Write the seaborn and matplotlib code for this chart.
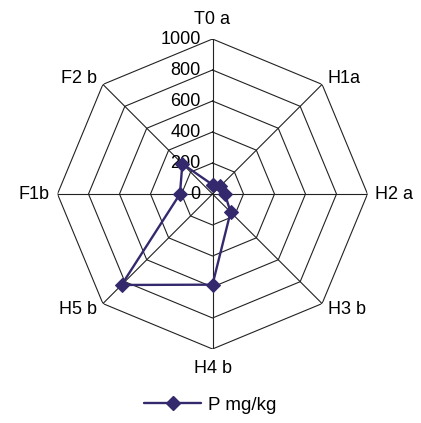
import numpy as np
import pandas as pd
import matplotlib
matplotlib.use("Agg")
import matplotlib.pyplot as plt
import matplotlib.transforms as mtransforms
from matplotlib.lines import Line2D
import seaborn as sns

categories = ["T0 a", "H1a", "H2 a", "H3 b", "H4 b", "H5 b", "F1b", "F2 b"]
values = [60, 70, 80, 165, 585, 830, 210, 275]
ring_ticks = [0, 200, 400, 600, 800, 1000]
series_name = "P mg/kg"

sns.set_theme(style="white")
plt.rcParams['font.family'] = ['Liberation Sans', 'DejaVu Sans']

W, H = 421, 423
fig = plt.figure(figsize=(W / 100, H / 100), dpi=100)
cx, cy, R = 212.5, 194, 155
ax = fig.add_axes([(cx - R) / W, (H - cy - R) / H, 2 * R / W, 2 * R / H],
                  projection='polar')
ax.set_theta_zero_location('N')
ax.set_theta_direction(-1)
ax.set_ylim(0, 1000)
ax.grid(False)
ax.spines['polar'].set_visible(False)
ax.set_xticks([])
ax.set_yticks([])
ax.set_facecolor('none')

n = len(categories)
angles = np.linspace(0, 2 * np.pi, n, endpoint=False)
closed = np.append(angles, angles[0])

grid_col = '#222222'
for r in ring_ticks[1:]:
    ax.plot(closed, [r] * (n + 1), color=grid_col, lw=0.8, zorder=1)
for a in angles:
    ax.plot([a, a], [0, 1000], color=grid_col, lw=0.8, zorder=1)

fs = 13
off = mtransforms.offset_copy(ax.transData, fig=fig, x=-12, y=0, units='dots')
for r in ring_ticks:
    ax.text(0, r, str(r), transform=off, ha='right', va='center',
            fontsize=fs, color='black', zorder=2)

for a, lab in zip(angles, categories):
    deg = np.degrees(a) % 360
    if deg < 1:
        ha, va, rr = 'center', 'bottom', 1070
    elif abs(deg - 180) < 1:
        ha, va, rr = 'center', 'top', 1070
    elif deg < 180:
        ha, va, rr = 'left', 'center', 1050
    else:
        ha, va, rr = 'right', 'center', 1050
    ax.text(a, rr, lab, ha=ha, va=va, fontsize=fs, color='black')

color = '#35296e'
df = pd.DataFrame({"angle": np.append(angles, angles[0]),
                   "value": values + [values[0]]})
sns.lineplot(data=df, x="angle", y="value", sort=False, ax=ax, color=color,
             lw=1.7, marker='D', markersize=7, markeredgecolor=color,
             estimator=None, zorder=3)
ax.set_xlabel('')
ax.set_ylabel('')
ax.set_xticks([])
ax.set_yticks([])
ax.set_ylim(0, 1000)

handle = Line2D([], [], color=color, lw=1.7, marker='D', markersize=7,
                markeredgecolor=color)
fig.legend([handle], [series_name], loc='center', bbox_to_anchor=(0.5, 1 - 405 / H),
           frameon=False, fontsize=13.5, handlelength=3.0, handletextpad=0.4,
           labelcolor='black')

fig.savefig("out.png", dpi=100, facecolor='white')
